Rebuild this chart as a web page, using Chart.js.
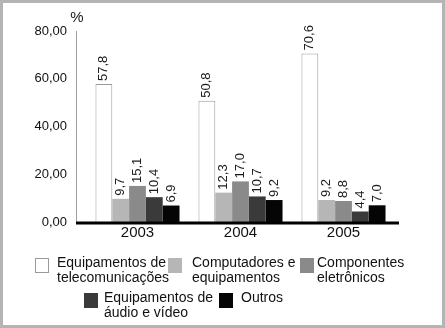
<!DOCTYPE html>
<html><head><meta charset="utf-8">
<script src="https://cdn.jsdelivr.net/npm/chart.js@4/dist/chart.umd.min.js"></script>
<style>
html,body{margin:0;padding:0;background:#fff;}
#wrap{width:445px;height:328px;box-sizing:border-box;border:3px solid #b4b4b4;position:relative;}
</style></head><body>
<div id="wrap"><canvas id="c"></canvas></div>
<script>
const categories = ['2003','2004','2005'];
const seriesNames = [
  ['Equipamentos de','telecomunicações'],
  ['Computadores e','equipamentos'],
  ['Componentes','eletrônicos'],
  ['Equipamentos de','áudio e vídeo'],
  ['Outros']
];
const telecom = [57.8, 50.8, 70.6];
const computadores = [9.7, 12.3, 9.2];
const componentes = [15.1, 17.0, 8.8];
const audioVideo = [10.4, 10.7, 4.4];
const outros = [6.9, 9.2, 7.0];
const yTicks = [0, 20, 40, 60, 80];

const fills = ['#ffffff','#b6b6b6','#8a8a8a','#3a3a3a','#050505'];
const borders = ['#9a9a9a','#b6b6b6','#8a8a8a','#3a3a3a','#050505'];
const values = [telecom, computadores, componentes, audioVideo, outros];
const FONT = '"Liberation Sans", Arial, sans-serif';
const OFF = 3;
const fmt = v => v.toFixed(1).replace('.', ',');

const axisPlugin = {
  id: 'axes',
  beforeDatasetsDraw(chart) {
    const ctx = chart.ctx;
    const y = chart.scales.y;
    const top = y.getPixelForValue(80), bottom = y.getPixelForValue(0);
    const left = 76 - OFF, right = 399 - OFF;
    ctx.save();
    ctx.strokeStyle = '#a0a0a0';
    ctx.lineWidth = 1;
    ctx.beginPath();
    ctx.moveTo(left + 0.5, top);
    ctx.lineTo(left + 0.5, bottom);
    ctx.stroke();
    ctx.restore();
  },
  afterDatasetsDraw(chart) {
    const ctx = chart.ctx;
    const y = chart.scales.y;
    const bottom = y.getPixelForValue(0);
    ctx.save();
    ctx.strokeStyle = '#000';
    ctx.lineWidth = 3;
    ctx.beginPath();
    ctx.moveTo(76 - OFF, bottom + 1);
    ctx.lineTo(399 - OFF, bottom + 1);
    ctx.stroke();
    ctx.restore();
  }
};

const labelPlugin = {
  id: 'labels',
  afterDatasetsDraw(chart) {
    const ctx = chart.ctx;
    ctx.save();
    ctx.fillStyle = '#1a1a1a';
    ctx.font = '13px ' + FONT;
    chart.data.datasets.forEach((ds, i) => {
      chart.getDatasetMeta(i).data.forEach((bar, j) => {
        ctx.save();
        ctx.translate(bar.x, bar.y - 3);
        ctx.rotate(-Math.PI / 2);
        ctx.textAlign = 'left';
        ctx.textBaseline = 'middle';
        ctx.fillText(fmt(ds.data[j]), 0, 0);
        ctx.restore();
      });
    });
    ctx.font = '15px ' + FONT;
    ctx.textAlign = 'center';
    ctx.textBaseline = 'alphabetic';
    ctx.fillText('%', 77 - OFF, 22 - OFF);
    const items = [
      {bx:35, by:258, tx:57},
      {bx:168, by:258, tx:192},
      {bx:300, by:258, tx:317},
      {bx:84, by:293, tx:104},
      {bx:219, by:293, tx:241}
    ];
    ctx.font = '14px ' + FONT;
    ctx.textAlign = 'left';
    ctx.textBaseline = 'middle';
    items.forEach((it, k) => {
      ctx.fillStyle = fills[k];
      ctx.fillRect(it.bx - OFF, it.by - OFF, 14, 15);
      ctx.strokeStyle = borders[k];
      ctx.lineWidth = 1;
      ctx.strokeRect(it.bx - OFF + 0.5, it.by - OFF + 0.5, 13, 14);
      ctx.fillStyle = '#111';
      seriesNames[k].forEach((line, li) => {
        ctx.fillText(line, it.tx - OFF, it.by + 5 + li * 15 - OFF);
      });
    });
    ctx.restore();
  }
};

new Chart(document.getElementById('c'), {
  type: 'bar',
  data: {
    labels: categories,
    datasets: values.map((v, i) => ({
      label: seriesNames[i].join(' '),
      data: v,
      backgroundColor: fills[i],
      borderColor: borders[i],
      borderWidth: i === 0 ? 1 : 0,
      barPercentage: 1,
      categoryPercentage: 0.816
    }))
  },
  options: {
    responsive: true,
    maintainAspectRatio: false,
    animation: false,
    layout: { padding: { top: 28, right: 47, bottom: 80, left: 0 } },
    plugins: { legend: { display: false }, tooltip: { enabled: false } },
    scales: {
      x: {
        grid: { display: false, drawTicks: false },
        border: { display: false },
        ticks: { color: '#111', font: { family: FONT, size: 15 }, padding: 2 },
        afterFit(s) { s.height = 23; }
      },
      y: {
        min: 0, max: 80,
        afterBuildTicks(s) { s.ticks = yTicks.map(v => ({ value: v })); },
        grid: { display: false, drawTicks: false },
        border: { display: false },
        ticks: {
          color: '#111', font: { family: FONT, size: 13 }, padding: 19,
          callback: v => v.toFixed(2).replace('.', ',')
        },
        afterFit(s) { s.width = 83; }
      }
    }
  },
  plugins: [axisPlugin, labelPlugin]
});
</script>
</body></html>
